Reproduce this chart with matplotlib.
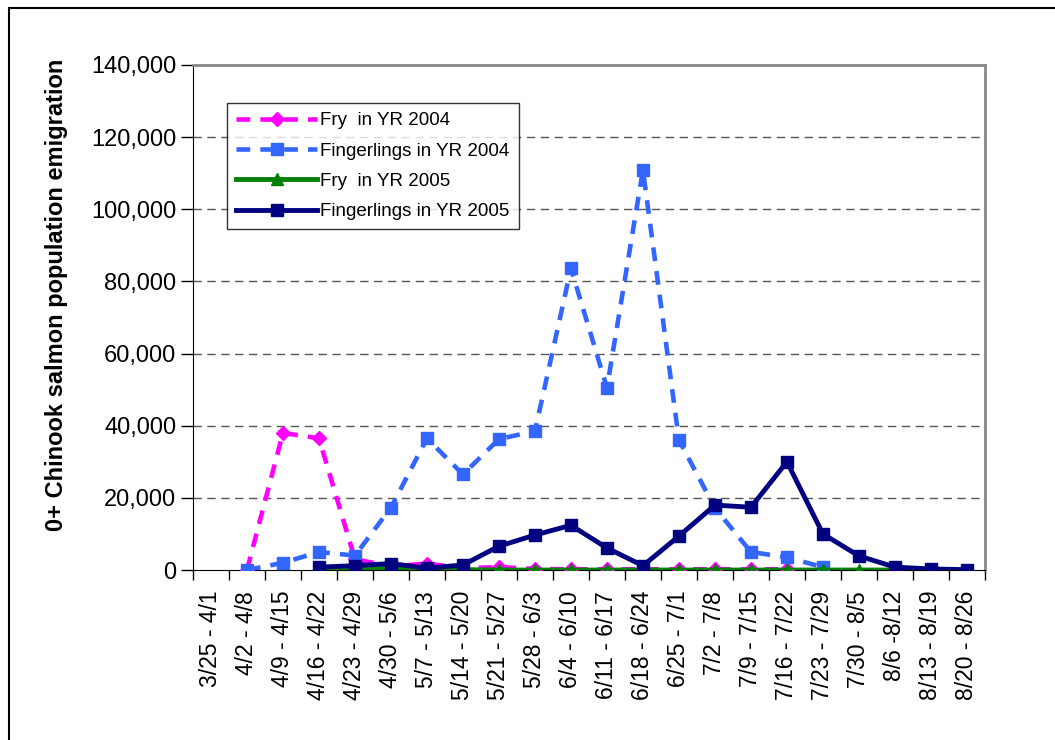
import numpy as np
import matplotlib.pyplot as plt
from matplotlib.ticker import FuncFormatter, FixedLocator
from matplotlib.patches import Rectangle

plt.rcParams['font.family'] = ['Liberation Sans', 'DejaVu Sans']

weeks = ['3/25 - 4/1', '4/2 - 4/8', '4/9 - 4/15', '4/16 - 4/22', '4/23 - 4/29',
         '4/30 - 5/6', '5/7 - 5/13', '5/14 - 5/20', '5/21 - 5/27', '5/28 - 6/3',
         '6/4 - 6/10', '6/11 - 6/17', '6/18 - 6/24', '6/25 - 7/1', '7/2 - 7/8',
         '7/9 - 7/15', '7/16 - 7/22', '7/23 - 7/29', '7/30 - 8/5', '8/6 -8/12',
         '8/13 - 8/19', '8/20 - 8/26']
nan = np.nan
fry_2004 = [nan, 0, 38000, 36500, 3000, 1000, 1800, 500, 800, 300, 200, 200,
            200, 200, 200, 200, 200, nan, nan, nan, nan, nan]
fing_2004 = [nan, 0, 2000, 5000, 4000, 17300, 36500, 26500, 36300, 38500, 83600,
             50500, 110900, 36000, 17200, 5000, 3500, 800, nan, nan, nan, nan]
fry_2005 = [nan, nan, nan, 100, 300, 700, 200, 100, 0, 0, 0, 0,
            0, 0, 0, 0, 0, 0, 0, 0, nan, nan]
fing_2005 = [nan, nan, nan, 800, 1200, 1800, 500, 1400, 6600, 9700, 12400, 6100,
             1200, 9400, 18000, 17400, 30000, 10000, 3900, 800, 300, 100]

fig = plt.figure(figsize=(10.55, 7.4), dpi=100)
ax = fig.add_axes([0.1829, 0.2297, 0.7507, 0.6825])
x = np.arange(len(weeks))

ax.plot(x, fry_2004, color='#FF00FF', lw=3.3, ls=(0, (3, 2.2)), marker='D', ms=7.5,
        label='Fry  in YR 2004', zorder=3)
ax.plot(x, fing_2004, color='#3366FF', lw=3.3, ls=(0, (3, 2.2)), marker='s', ms=8.5,
        label='Fingerlings in YR 2004', zorder=3)
ax.plot(x, fry_2005, color='#008000', lw=3.5, marker='^', ms=8.5,
        label='Fry  in YR 2005', zorder=4)
ax.plot(x, fing_2005, color='#000080', lw=3.5, marker='s', ms=8.5,
        label='Fingerlings in YR 2005', zorder=5)

ax.set_xlim(-0.5, len(weeks) - 0.5)
ax.set_ylim(0, 140000)
ax.set_yticks(np.arange(0, 140001, 20000))
ax.yaxis.set_major_formatter(FuncFormatter(lambda v, p: f'{int(v):,}'))
ax.set_xticks(x)
ax.set_xticklabels(weeks, rotation=90, fontsize=16.5)
ax.tick_params(axis='x', length=0, pad=15)
ax.xaxis.set_minor_locator(FixedLocator(np.arange(-0.5, len(weeks), 1)))
ax.tick_params(axis='x', which='minor', length=7, direction='out', width=1)
ax.tick_params(axis='y', labelsize=17, length=9, direction='out', width=1, pad=3)

for v in range(20000, 140000, 20000):
    ax.axhline(v, color='#555555', lw=1, ls=(0, (6, 4)), zorder=1)

ax.spines['left'].set_color('black')
ax.spines['bottom'].set_color('black')
ax.spines['top'].set_color('#888888')
ax.spines['right'].set_color('#888888')
ax.spines['top'].set_linewidth(2)
ax.spines['right'].set_linewidth(2)

ax.set_ylabel('0+ Chinook salmon population emigration', fontsize=17,
              fontweight='bold')
ax.yaxis.set_label_coords(-0.158, 0.545)

leg = ax.legend(loc='upper left', bbox_to_anchor=(0.043, 0.925), fontsize=13.5,
                frameon=True, fancybox=False, edgecolor='black', borderpad=0.5,
                handlelength=4.3, labelspacing=0.7, handletextpad=0.15,
                borderaxespad=0)
leg.get_frame().set_linewidth(1)

fig.patches.append(Rectangle((9 / 1055, -0.1), 1.2, 1 - 8 / 740 + 0.1,
                             transform=fig.transFigure, fill=False,
                             edgecolor='black', lw=1.5))

fig.savefig('out.png', dpi=100)
